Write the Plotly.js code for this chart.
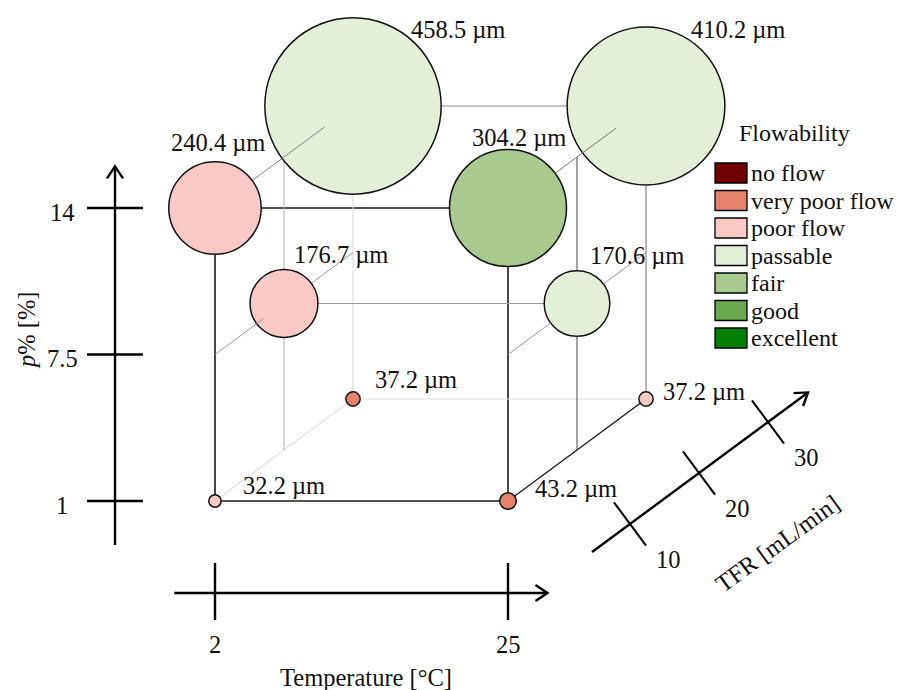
<!DOCTYPE html>
<html><head><meta charset="utf-8">
<script src="https://cdn.plot.ly/plotly-3.0.1.min.js"></script>
<style>html,body{margin:0;padding:0;background:#fff}</style>
</head><body><div id="chart" style="width:902px;height:690px"></div>
<script>
// ---------------- data ----------------
const temperature = [2, 2, 25, 25, 2, 2, 25, 25, 2, 25];
const pPercent    = [1, 1, 1, 1, 14, 14, 14, 14, 7.5, 7.5];
const tfr         = [10, 30, 10, 30, 10, 30, 10, 30, 20, 20];
const sizeUm      = [32.2, 37.2, 43.2, 37.2, 240.4, 458.5, 304.2, 410.2, 176.7, 170.6];
const flowability = ['poor flow','very poor flow','very poor flow','poor flow','poor flow','passable','fair','passable','poor flow','passable'];

const legendCategories = ['no flow','very poor flow','poor flow','passable','fair','good','excellent'];
const legendColors     = ['#700000','#e4826c','#f9c9c8','#e3efd9','#a9c98f','#6aa84f','#008000'];

const tempTicks = [2, 25];
const pTicks    = [1, 7.5, 14];
const tfrTicks  = [10, 20, 30];

// ---------------- styles / layout ----------------
const FONT = 'Liberation Serif, Times New Roman, serif';
const FS = 24.5;
const LFS = 24;
const SIZEREF = 2.6;
const G = {x0:215, xw:293, y0:501, yh:293, dx:138, dy:-102};
const tMin = Math.min(...tempTicks), tMax = Math.max(...tempTicks);
const pMin = Math.min(...pTicks), pMax = Math.max(...pTicks);
const fMin = Math.min(...tfrTicks), fMax = Math.max(...tfrTicks);
function proj(T, p, f){
  return [G.x0 + (T - tMin)/(tMax - tMin)*G.xw + (f - fMin)/(fMax - fMin)*G.dx,
          G.y0 - (p - pMin)/(pMax - pMin)*G.yh + (f - fMin)/(fMax - fMin)*G.dy];
}
const colorOf = c => legendColors[legendCategories.indexOf(c)];

const shapes = [], annotations = [];
function line(a, b, color, width, layer){
  shapes.push({type:'line', xref:'x', yref:'y', x0:a[0], y0:a[1], x1:b[0], y1:b[1],
    line:{color:color, width:width}, layer:layer||'below'});
}
function text(x, y, s, opts){
  annotations.push(Object.assign({x:x, y:y, xref:'x', yref:'y', text:s, showarrow:false,
    font:{family:FONT, size:FS, color:'#111'}, xanchor:'center', yanchor:'middle'}, opts||{}));
}

// cube edges (data-space endpoints)
const edges = [
  [[2,1,10],[25,1,10],'#1a1a1a',1.6],
  [[2,1,10],[2,14,10],'#1a1a1a',1.6],
  [[25,1,10],[25,14,10],'#1a1a1a',1.6],
  [[2,14,10],[25,14,10],'#1a1a1a',1.6],
  [[25,1,10],[25,1,30],'#1a1a1a',1.4],
  [[25,1,30],[25,14,30],'#6e6e6e',1],
  [[25,14,10],[25,14,30],'#777',1],
  [[2,14,10],[2,14,30],'#888',1],
  [[2,14,30],[25,14,30],'#8a8a8a',1],
  [[2,1,30],[2,14,30],'#d6d6d6',1],
  [[2,1,10],[2,1,30],'#d6d6d6',1],
  [[2,1,30],[25,1,30],'#e0e0e0',1],
  [[2,1,20],[2,14,20],'#b0b0b0',1],
  [[25,1,20],[25,14,20],'#444',1],
  [[2,7.5,20],[25,7.5,20],'#9a9a9a',1],
  [[2,7.5,10],[2,7.5,30],'#9a9a9a',1],
  [[25,7.5,10],[25,7.5,30],'#9a9a9a',1],
];
edges.forEach(e => line(proj(...e[0]), proj(...e[1]), e[2], e[3]));

// parts of depth lines that run in front of a bubble
const radius = i => sizeUm[i]/SIZEREF/2 + 0.75;
const pierces = [
  {a:[2,14,10],  b:[2,14,30],  circle:5, frac:0.40, color:'#888'},
  {a:[25,14,10], b:[25,14,30], circle:7, frac:0.47, color:'#777'},
  {a:[2,7.5,10], b:[2,7.5,30], circle:8, frac:0.73, color:'#9a9a9a'},
  {a:[25,7.5,10],b:[25,7.5,30],circle:9, frac:0.90, color:'#9a9a9a'},
];
pierces.forEach(pc => {
  const A = proj(...pc.a), B = proj(...pc.b);
  const L = Math.hypot(B[0]-A[0], B[1]-A[1]);
  const u = [(B[0]-A[0])/L, (B[1]-A[1])/L];
  const i = pc.circle;
  const C = proj(temperature[i], pPercent[i], tfr[i]);
  const R = radius(i);
  line([C[0]-u[0]*R, C[1]-u[1]*R], [C[0]-u[0]*R*pc.frac, C[1]-u[1]*R*pc.frac], pc.color, 1, 'above');
});

// arrow helper
function arrow(a, b, w){
  line(a, b, '#000', w);
  const L = Math.hypot(b[0]-a[0], b[1]-a[1]);
  const u = [(b[0]-a[0])/L, (b[1]-a[1])/L], n = [-u[1], u[0]];
  const back = 12, half = 8;
  shapes.push({type:'path', xref:'x', yref:'y', layer:'below', line:{color:'#000', width:w},
    path:`M${b[0]-u[0]*back+n[0]*half},${b[1]-u[1]*back+n[1]*half} L${b[0]},${b[1]} L${b[0]-u[0]*back-n[0]*half},${b[1]-u[1]*back-n[1]*half}`});
}
const AW = 2.4;

// p% axis (left)
const pAxisX = 115;
arrow([pAxisX, proj(tMin, pMin - 1.95, fMin)[1]], [pAxisX, proj(tMin, pMax + 1.85, fMin)[1]], AW);
pTicks.forEach(v => {
  const y = proj(tMin, v, fMin)[1];
  line([pAxisX-28, y], [pAxisX+28, y], '#000', AW);
  text(62, y + 4, String(v));
});
text(26, 330, '<i>p</i>% [%]', {textangle:-90});

// Temperature axis (bottom)
const tAxisY = 593;
arrow([proj(tMin - 3.2, pMin, fMin)[0], tAxisY], [proj(tMax + 3.1, pMin, fMin)[0], tAxisY], AW);
tempTicks.forEach(v => {
  const x = proj(v, pMin, fMin)[0];
  line([x, tAxisY-30], [x, tAxisY+27], '#000', AW);
  text(x, 644, String(v));
});
text(366, 677, 'Temperature [°C]');

// TFR axis (diagonal)
const tfrOff = [122, 23];
const tfrPt = f => { const q = proj(tMax, pMin, f); return [q[0]+tfrOff[0], q[1]+tfrOff[1]]; };
arrow(tfrPt(4.5), tfrPt(35.8), AW);
{
  const A = tfrPt(fMin), B = tfrPt(fMax);
  const L = Math.hypot(B[0]-A[0], B[1]-A[1]);
  const n = [-(B[1]-A[1])/L, (B[0]-A[0])/L];
  tfrTicks.forEach(v => {
    const c = tfrPt(v);
    line([c[0]-n[0]*27, c[1]-n[1]*27], [c[0]+n[0]*27, c[1]+n[1]*27], '#000', 2);
    text(c[0]+38, c[1]+35, String(v));
  });
}
text(777, 543, 'TFR [mL/min]', {textangle:-36});

// value labels
const labelDx = [26, 20, 25, 15, -46, 56, -38, 43, 8, 11];
const labelDy = [-16, -20, -13, -8, -66, -77, -71, -77, -49, -48];
const xs = [], ys = [];
sizeUm.forEach((v, i) => {
  const c = proj(temperature[i], pPercent[i], tfr[i]);
  xs.push(c[0]); ys.push(c[1]);
  text(c[0] + labelDx[i], c[1] + labelDy[i], v.toFixed(1) + ' µm', {xanchor:'left'});
});

// legend
const legX = 715, legY0 = 173, legStep = 27.5;
text(737, 133, 'Flowability', {xanchor:'left', font:{family:FONT, size:LFS, color:'#111'}});
legendCategories.forEach((c, i) => {
  const y = legY0 + i*legStep;
  shapes.push({type:'rect', xref:'x', yref:'y', x0:legX, x1:legX+32, y0:y-10, y1:y+10,
    fillcolor:legendColors[i], line:{color:'#000', width:1.3}, layer:'below'});
  text(749, y, c, {xanchor:'left', font:{family:FONT, size:LFS, color:'#111'}});
});

// draw back-to-front by size (bigger first)
const order = sizeUm.map((v,i)=>i).sort((a,b)=>sizeUm[b]-sizeUm[a]);
const trace = {
  type:'scatter', mode:'markers',
  x: order.map(i=>xs[i]), y: order.map(i=>ys[i]),
  marker:{size: order.map(i=>sizeUm[i]), sizemode:'diameter', sizeref:SIZEREF,
    color: order.map(i=>colorOf(flowability[i])), opacity:1,
    line:{color:'#111', width:1.5}},
  hoverinfo:'skip', showlegend:false
};

const layout = {
  width:902, height:690, margin:{l:0, r:0, t:0, b:0},
  paper_bgcolor:'#fff', plot_bgcolor:'#fff',
  xaxis:{range:[0,902], visible:false, fixedrange:true},
  yaxis:{range:[690,0], visible:false, fixedrange:true},
  shapes:shapes, annotations:annotations, showlegend:false
};
Plotly.newPlot('chart', [trace], layout, {staticPlot:true});
</script></body></html>
